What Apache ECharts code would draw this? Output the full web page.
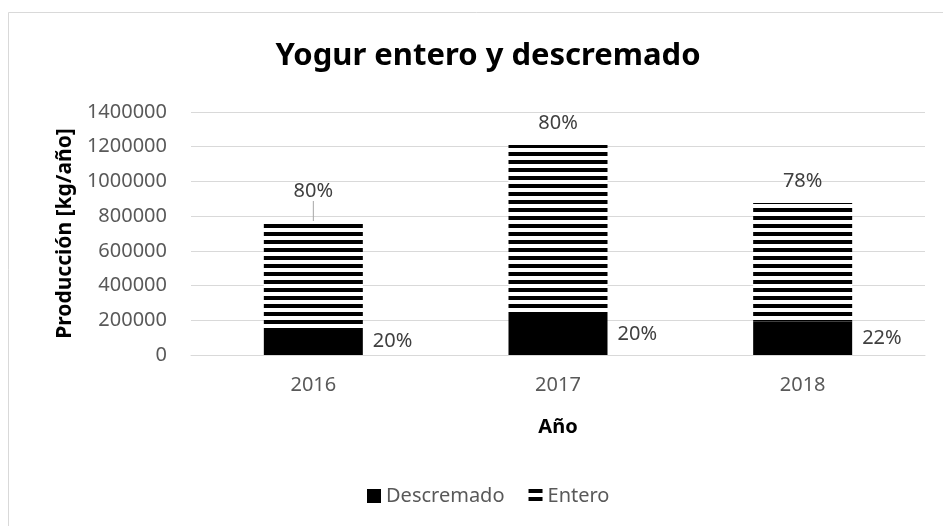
<!DOCTYPE html>
<html>
<head>
<meta charset="utf-8">
<script src="https://cdn.jsdelivr.net/npm/echarts@6/dist/echarts.min.js"></script>
<style>
  html, body { margin: 0; padding: 0; background: #fff; }
  #chart { width: 943px; height: 526px; }
</style>
</head>
<body>
<div id="chart"></div>
<script>
// datos
const years = ["2016", "2017", "2018"];
const descremado = [155000, 242000, 193000];
const entero = [617000, 968000, 683000];
const descPct = ["20%", "20%", "22%"];
const enteroPct = ["80%", "80%", "78%"];

const font = "'Noto Sans', 'DejaVu Sans', sans-serif";

// rayado horizontal para "Entero"
const stripe = document.createElement("canvas");
stripe.width = 8;
stripe.height = 8;
const ctx = stripe.getContext("2d");
ctx.fillStyle = "#fff";
ctx.fillRect(0, 0, 8, 8);
ctx.fillStyle = "#000";
ctx.fillRect(0, 0, 8, 4);

// solo la etiqueta de 2016 lleva línea guía
const enteroData = entero.map((v, i) =>
  i === 0 ? { value: v, labelLine: { show: true } } : v
);

const myChart = echarts.init(document.getElementById("chart"));

const option = {
  backgroundColor: "#fff",
  animation: false,
  title: {
    text: "Yogur entero y descremado",
    left: 483,
    textAlign: "center",
    top: 36,
    textStyle: { fontFamily: font, fontSize: 31, fontWeight: "bold", color: "#000" },
  },
  graphic: [
    {
      type: "rect",
      shape: { x: 8.5, y: 12.5, width: 945, height: 530 },
      style: { fill: "none", stroke: "#d9d9d9", lineWidth: 1 },
      silent: true,
    },
  ],
  legend: {
    bottom: 15,
    left: 362,
    itemWidth: 14,
    itemHeight: 14,
    itemGap: 24,
    textStyle: { fontFamily: font, fontSize: 20, color: "#595959" },
    data: [
      { name: "Descremado", icon: "rect" },
      { name: "Entero", icon: "rect" },
    ],
  },
  grid: { left: 191, right: 18, top: 112, bottom: 171 },
  xAxis: {
    type: "category",
    data: years,
    name: "Año",
    nameLocation: "middle",
    nameGap: 62,
    nameTextStyle: { fontFamily: font, fontSize: 20, fontWeight: "bold", color: "#000" },
    axisLine: { lineStyle: { color: "#d9d9d9", width: 1 } },
    axisTick: { show: false },
    axisLabel: { fontFamily: font, fontSize: 20, color: "#595959", margin: 20 },
  },
  yAxis: {
    type: "value",
    min: 0,
    max: 1400000,
    interval: 200000,
    name: "Producción [kg/año]",
    nameLocation: "middle",
    nameGap: 115,
    nameTextStyle: { fontFamily: font, fontSize: 21, fontWeight: "bold", color: "#000" },
    axisLine: { show: false },
    axisTick: { show: false },
    splitLine: { lineStyle: { color: "#d9d9d9", width: 1 } },
    axisLabel: {
      fontFamily: font,
      fontSize: 20,
      color: "#595959",
      margin: 24,
      formatter: (v) => String(v),
    },
  },
  series: [
    {
      name: "Descremado",
      type: "bar",
      stack: "total",
      barWidth: 99,
      data: descremado,
      itemStyle: { color: "#000" },
      label: {
        show: true,
        position: "right",
        distance: 10,
        fontFamily: font,
        fontSize: 20,
        color: "#404040",
        formatter: (p) => descPct[p.dataIndex],
      },
    },
    {
      name: "Entero",
      type: "bar",
      stack: "total",
      barWidth: 99,
      data: enteroData,
      itemStyle: { color: { image: stripe, repeat: "repeat" } },
      label: {
        show: true,
        position: "top",
        distance: 12,
        fontFamily: font,
        fontSize: 20,
        color: "#404040",
        formatter: (p) => enteroPct[p.dataIndex],
      },
      labelLayout: (p) => (p.dataIndex === 0 ? { dy: -8 } : {}),
      labelLine: { show: false, lineStyle: { color: "#a6a6a6", width: 1 } },
    },
  ],
};

myChart.setOption(option);
</script>
</body>
</html>
